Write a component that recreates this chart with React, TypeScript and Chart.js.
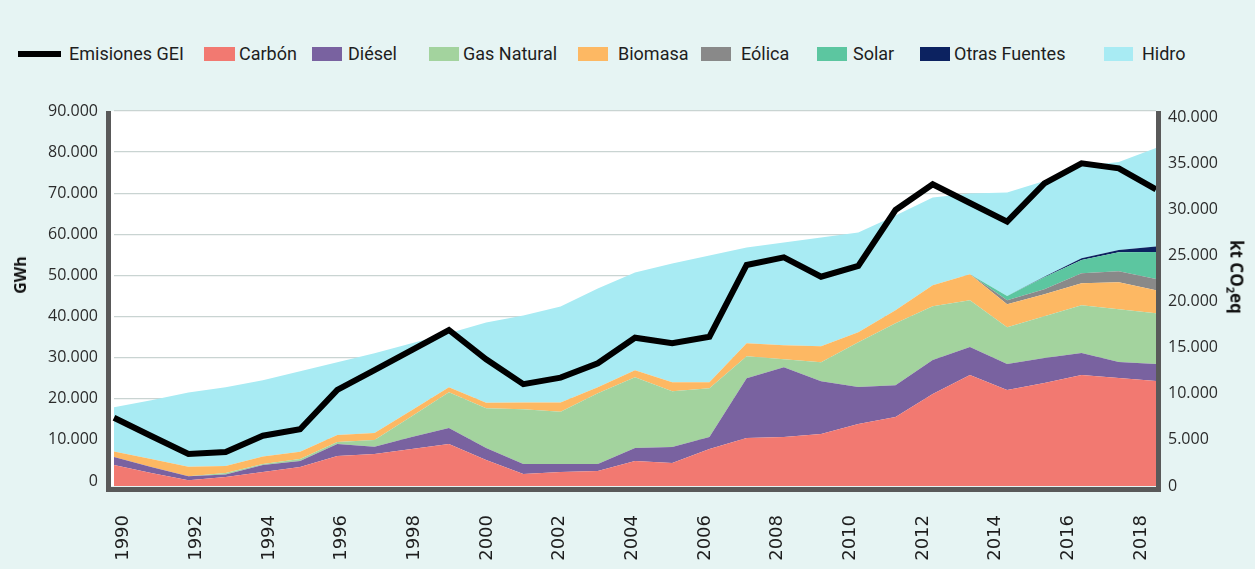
import React, { useEffect, useRef } from 'react';
import { Chart, registerables } from 'chart.js';

Chart.register(...registerables);

// ---------- data ----------
const YEARS = [
  '1990', '1991', '1992', '1993', '1994', '1995', '1996', '1997', '1998', '1999',
  '2000', '2001', '2002', '2003', '2004', '2005', '2006', '2007', '2008', '2009',
  '2010', '2011', '2012', '2013', '2014', '2015', '2016', '2017', '2018',
];
const YEAR_TICKS = [1990, 1992, 1994, 1996, 1998, 2000, 2002, 2004, 2006, 2008, 2010, 2012, 2014, 2016, 2018];
const GWH_TICKS = [0, 10000, 20000, 30000, 40000, 50000, 60000, 70000, 80000, 90000];
const KT_TICKS = [0, 5000, 10000, 15000, 20000, 25000, 30000, 35000, 40000];

// GWh
const CARBON = [3890, 1950, 200, 970, 2190, 3400, 6080, 6570, 7780, 9000, 5110, 1700, 2190, 2430, 4860, 4380, 7780, 10460, 10700, 11430, 13860, 15560, 21160, 25780, 22130, 23830, 25780, 25050, 24320];
const DIESEL = [1940, 1460, 970, 610, 1700, 1460, 2910, 1770, 2910, 3880, 2910, 2430, 1940, 1700, 3150, 3880, 2910, 14560, 16980, 12860, 8980, 7760, 8250, 6790, 6310, 6070, 5340, 3880, 4120];
const GAS = [0, 0, 0, 360, 240, 490, 490, 1620, 5090, 8730, 9700, 13340, 12690, 17220, 17220, 13590, 11890, 5340, 1940, 4610, 10920, 15040, 13100, 11400, 8980, 10190, 11640, 12860, 12370];
const BIOMASA = [1330, 1940, 2300, 1700, 1820, 1770, 1700, 1700, 1460, 1210, 1330, 1630, 2280, 1460, 1700, 2180, 1460, 3150, 3400, 3880, 2430, 3150, 5090, 6310, 5580, 5340, 5340, 6550, 5580];
const EOLICA = [0, 0, 0, 0, 0, 0, 0, 0, 0, 0, 0, 0, 0, 0, 0, 0, 0, 0, 0, 0, 0, 0, 0, 0, 970, 1210, 2430, 2670, 2770];
const SOLAR = [0, 0, 0, 0, 0, 0, 0, 0, 0, 0, 0, 0, 0, 0, 0, 0, 0, 0, 0, 0, 0, 0, 0, 0, 1040, 2910, 3230, 4610, 6550];
const OTRAS = [0, 0, 0, 0, 0, 0, 0, 0, 0, 0, 0, 0, 0, 0, 0, 0, 0, 0, 0, 0, 0, 0, 0, 0, 0, 150, 410, 580, 1360];
const HIDRO = [10800, 14310, 18070, 19170, 18560, 19580, 17710, 19410, 16250, 13100, 19530, 21180, 23360, 24020, 23770, 28870, 30810, 23290, 24990, 26440, 24260, 23050, 21350, 19650, 25160, 23290, 22390, 21420, 23940];
// kt CO2 eq
const EMISIONES = [7400, 5420, 3470, 3690, 5450, 6150, 10410, 12570, 14740, 16910, 13740, 11040, 11750, 13300, 16080, 15470, 16180, 23960, 24790, 22690, 23850, 29920, 32700, 30680, 28650, 32810, 34980, 34440, 32160];

// ---------- styles ----------
const BG = '#e6f4f3';
const COLORS = {
  emis: '#000000',
  carbon: '#f27971',
  diesel: '#7962a0',
  gas: '#a3d39e',
  bio: '#fdb863',
  eol: '#898989',
  solar: '#5cc6a0',
  otras: '#0c2260',
  hidro: '#a8ebf3',
};

const LEGEND_ITEMS = [
  { label: 'Emisiones GEI', color: COLORS.emis, line: true, bx: 18, bw: 43, tx: 69 },
  { label: 'Carbón', color: COLORS.carbon, line: false, bx: 204, bw: 31, tx: 239 },
  { label: 'Diésel', color: COLORS.diesel, line: false, bx: 312, bw: 30, tx: 348 },
  { label: 'Gas Natural', color: COLORS.gas, line: false, bx: 429, bw: 30, tx: 463 },
  { label: 'Biomasa', color: COLORS.bio, line: false, bx: 578, bw: 30, tx: 618 },
  { label: 'Eólica', color: COLORS.eol, line: false, bx: 701, bw: 30, tx: 741 },
  { label: 'Solar', color: COLORS.solar, line: false, bx: 817, bw: 30, tx: 853 },
  { label: 'Otras Fuentes', color: COLORS.otras, line: false, bx: 920, bw: 30, tx: 954 },
  { label: 'Hidro', color: COLORS.hidro, line: false, bx: 1104, bw: 29, tx: 1142 },
];

const fmt = (v: number) => String(v).replace(/\B(?=(\d{3})+(?!\d))/g, '.');

const framePlugin = {
  id: 'frame',
  beforeDraw(chart: any) {
    const { ctx, chartArea: a } = chart;
    ctx.save();
    ctx.fillStyle = '#ffffff';
    ctx.fillRect(111, a.top, a.right - 111, a.bottom - a.top);
    ctx.restore();
  },
  afterDraw(chart: any) {
    const { ctx, chartArea: a } = chart;
    ctx.save();
    ctx.fillStyle = '#595959';
    ctx.fillRect(106, a.top, 5, a.bottom + 6 - a.top);
    ctx.fillRect(106, a.bottom + 1, 1161 - 106, 5);
    ctx.fillRect(1156, a.top, 5, a.bottom + 6 - a.top);
    ctx.restore();
  },
};

const area = (label: string, data: number[], color: string, fill: any) => ({
  type: 'line' as const,
  label,
  data,
  yAxisID: 'y',
  backgroundColor: color,
  borderColor: 'rgba(0,0,0,0)',
  borderWidth: 0,
  pointRadius: 0,
  fill,
  tension: 0,
});

export default function App() {
  const ref = useRef<HTMLCanvasElement | null>(null);

  useEffect(() => {
    if (!ref.current) return;
    const tickFont = { family: "'Open Sans', 'Noto Sans', sans-serif", size: 16 };
    const chart = new Chart(ref.current, {
      type: 'line',
      data: {
        labels: YEARS,
        datasets: [
          {
            type: 'line',
            label: 'Emisiones GEI',
            data: EMISIONES,
            yAxisID: 'y2',
            borderColor: COLORS.emis,
            borderWidth: 6,
            borderJoinStyle: 'miter',
            borderCapStyle: 'butt',
            pointRadius: 0,
            fill: false,
            tension: 0,
          },
          area('Carbón', CARBON, COLORS.carbon, 'start'),
          area('Diésel', DIESEL, COLORS.diesel, '-1'),
          area('Gas Natural', GAS, COLORS.gas, '-1'),
          area('Biomasa', BIOMASA, COLORS.bio, '-1'),
          area('Eólica', EOLICA, COLORS.eol, '-1'),
          area('Solar', SOLAR, COLORS.solar, '-1'),
          area('Otras Fuentes', OTRAS, COLORS.otras, '-1'),
          area('Hidro', HIDRO, COLORS.hidro, '-1'),
        ] as any,
      },
      options: {
        responsive: false,
        maintainAspectRatio: false,
        animation: false,
        layout: { padding: { top: 111, left: 0, right: 0, bottom: 0 } },
        plugins: {
          legend: { display: false },
          tooltip: { enabled: false },
          title: { display: false },
        },
        scales: {
          x: { type: 'category', display: false, offset: false },
          xl: {
            type: 'linear',
            position: 'bottom',
            min: 1989.733,
            max: 2018.413,
            afterBuildTicks: (s: any) => {
              s.ticks = YEAR_TICKS.map((v) => ({ value: v }));
            },
            afterFit: (s: any) => {
              s.height = 83;
            },
            grid: { display: false, drawTicks: false },
            border: { display: false },
            ticks: {
              autoSkip: false,
              maxRotation: 90,
              minRotation: 90,
              padding: 29,
              color: '#1e1e1e',
              font: { family: "'DejaVu Sans', sans-serif", size: 18 },
              callback: (v: any) => String(v),
            },
          },
          y: {
            type: 'linear',
            position: 'left',
            stacked: true,
            min: -1216,
            max: 90000,
            afterBuildTicks: (s: any) => {
              s.ticks = GWH_TICKS.map((v) => ({ value: v }));
            },
            afterFit: (s: any) => {
              s.width = 114;
            },
            grid: { color: '#c9d4d2', lineWidth: 1.3, drawTicks: false },
            border: { display: false },
            ticks: { padding: 16, color: '#2b2b2b', font: tickFont, callback: (v: any) => fmt(v) },
          },
          y2: {
            type: 'linear',
            position: 'right',
            min: 0,
            max: 40650,
            afterBuildTicks: (s: any) => {
              s.ticks = KT_TICKS.map((v) => ({ value: v }));
            },
            afterFit: (s: any) => {
              s.width = 99;
            },
            grid: { display: false, drawTicks: false },
            border: { display: false },
            ticks: { padding: 12, color: '#2b2b2b', font: tickFont, callback: (v: any) => fmt(v) },
          },
        } as any,
      },
      plugins: [framePlugin],
    });
    return () => chart.destroy();
  }, []);

  return (
    <div
      style={{
        position: 'absolute',
        left: 0,
        top: 0,
        width: 1255,
        height: 569,
        background: BG,
        overflow: 'hidden',
      }}
    >
      {LEGEND_ITEMS.map((it) => (
        <React.Fragment key={it.label}>
          <div
            style={{
              position: 'absolute',
              left: it.bx,
              top: it.line ? 51 : 47,
              width: it.bw,
              height: it.line ? 6 : 14,
              background: it.color,
            }}
          />
          <div
            style={{
              position: 'absolute',
              left: it.tx,
              top: 42,
              height: 24,
              lineHeight: '24px',
              fontFamily: "Roboto, 'Noto Sans', sans-serif",
              fontSize: 18,
              color: '#1e1e1e',
              whiteSpace: 'nowrap',
            }}
          >
            {it.label}
          </div>
        </React.Fragment>
      ))}
      <canvas ref={ref} width={1255} height={569} style={{ position: 'absolute', left: 0, top: 0, width: 1255, height: 569 }} />
      <div
        style={{
          position: 'absolute',
          left: 20,
          top: 275,
          transform: 'translate(-50%, -50%) rotate(-90deg)',
          fontFamily: "'Open Sans', sans-serif",
          fontWeight: 700,
          fontSize: 16,
          color: '#111',
          whiteSpace: 'nowrap',
        }}
      >
        GWh
      </div>
      <div
        style={{
          position: 'absolute',
          left: 1236,
          top: 277,
          transform: 'translate(-50%, -50%) rotate(90deg)',
          fontFamily: "'Open Sans', sans-serif",
          fontWeight: 700,
          fontSize: 17,
          color: '#111',
          whiteSpace: 'nowrap',
        }}
      >
        kt CO<sub style={{ fontSize: '0.65em', verticalAlign: '-0.35em' }}>2</sub>eq
      </div>
    </div>
  );
}
